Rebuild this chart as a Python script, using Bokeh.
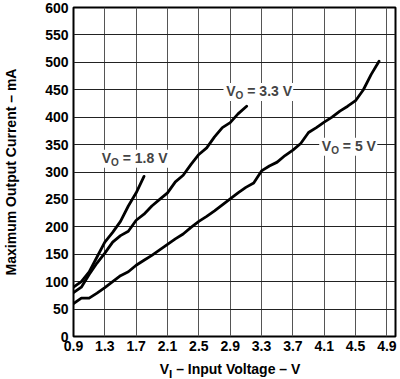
from bokeh.plotting import figure
from bokeh.models import FixedTicker, Label, Range1d, Div
from bokeh.layouts import column
from bokeh.embed import file_html
from bokeh.resources import INLINE

# ---- data ----
vi_18 = [0.9, 1.0, 1.1, 1.2, 1.3, 1.4, 1.5, 1.6, 1.7, 1.8]
io_18 = [90, 100, 118, 145, 172, 190, 210, 238, 262, 292]

vi_33 = [0.9, 1.0, 1.1, 1.2, 1.3, 1.4, 1.5, 1.6, 1.7, 1.8, 1.9, 2.0,
         2.1, 2.2, 2.3, 2.4, 2.5, 2.6, 2.7, 2.8, 2.9, 3.0, 3.11]
io_33 = [80, 90, 113, 134, 152, 172, 184, 192, 212, 223, 238, 250,
         262, 282, 294, 314, 332, 344, 364, 381, 390, 406, 420]

vi_50 = [0.9, 1.0, 1.1, 1.2, 1.3, 1.4, 1.5, 1.6, 1.7, 1.8,
         1.9, 2.0, 2.1, 2.2, 2.3, 2.4, 2.5, 2.6, 2.7, 2.8,
         2.9, 3.0, 3.1, 3.2, 3.3, 3.4, 3.5, 3.6, 3.7, 3.8,
         3.9, 4.0, 4.1, 4.2, 4.3, 4.4, 4.5, 4.6, 4.7, 4.8]
io_50 = [60, 70, 70, 79, 89, 100, 111, 118, 130, 139,
         148, 158, 168, 178, 187, 199, 210, 219, 229, 240,
         251, 262, 272, 280, 302, 311, 318, 330, 340, 352,
         372, 381, 391, 400, 411, 420, 430, 450, 478, 502]

x_ticks = [0.9, 1.3, 1.7, 2.1, 2.5, 2.9, 3.3, 3.7, 4.1, 4.5, 4.9]
y_ticks = [0, 50, 100, 150, 200, 250, 300, 350, 400, 450, 500, 550, 600]

x_title_html = "V<sub>I</sub> \u2013 Input Voltage \u2013 V"
y_title = "Maximum Output Current \u2013 mA"

series_labels = [
    # (main, subscript, rest, x-left, y-middle)
    ("V", "O", "\u00a0= 1.8 V", 1.26, 325),
    ("V", "O", "\u00a0= 3.3 V", 2.85, 447),
    ("V", "O", "\u00a0= 5 V", 4.07, 347),
]

FONT = "Liberation Sans"
X_MIN, X_MAX = 0.9, 5.01
LEFT, RIGHT, TOP, BOTTOM = 65, 5, 7, 22
W, H = 400, 358

p = figure(width=W, height=H,
           x_range=Range1d(X_MIN, X_MAX), y_range=Range1d(0, 600),
           output_backend="svg", toolbar_location=None,
           min_border_left=LEFT, min_border_right=RIGHT,
           min_border_top=TOP, min_border_bottom=BOTTOM)

p.background_fill_color = "white"
p.border_fill_color = "white"
p.outline_line_color = "black"
p.outline_line_width = 2

for ax, ticks in ((p.xaxis[0], x_ticks), (p.yaxis[0], y_ticks)):
    ax.ticker = FixedTicker(ticks=ticks)
    ax.axis_line_color = None
    ax.major_tick_line_color = None
    ax.minor_tick_line_color = None
    ax.major_tick_in = 0
    ax.major_tick_out = 0
    ax.major_label_text_font = FONT
    ax.major_label_text_font_style = "bold"
    ax.major_label_text_font_size = "14px"
    ax.major_label_text_color = "black"

p.xaxis[0].major_label_standoff = 4
p.yaxis[0].major_label_standoff = 5
p.yaxis[0].axis_label = y_title
p.yaxis[0].axis_label_text_font = FONT
p.yaxis[0].axis_label_text_font_style = "bold"
p.yaxis[0].axis_label_text_font_size = "14px"
p.yaxis[0].axis_label_text_color = "black"
p.yaxis[0].axis_label_standoff = 23

p.xgrid.grid_line_color = "#555555"
p.ygrid.grid_line_color = "#222222"
p.xgrid.grid_line_width = 1
p.ygrid.grid_line_width = 1

for xs, ys in ((vi_18, io_18), (vi_33, io_33), (vi_50, io_50)):
    p.line(xs, ys, line_color="black", line_width=2.8, line_join="round", line_cap="round")

# series labels: white box, then "V", subscript "O", and the rest
WID = {"V": 0.667, "O": 0.778}
frame_w = W - LEFT - RIGHT
ppu = frame_w / (X_MAX - X_MIN)
for main, sub, rest, xl, ym in series_labels:
    w_main = WID[main] * 14
    w_sub = WID[sub] * 10
    w_rest = 0.0
    for ch in rest:
        w_rest += {" ": 0.278, "\u00a0": 0.278, "=": 0.584, ".": 0.278, "V": 0.667}.get(ch, 0.556)
    w_rest *= 14
    w_tot = w_main + w_sub + w_rest + 4
    p.rect(x=[xl - 2 / ppu + w_tot / 2 / ppu], y=[ym - 1], width=[w_tot], height=[18],
           width_units="screen", height_units="screen",
           fill_color="white", line_color=None)
    p.add_layout(Label(x=xl, y=ym, text=main, text_font=FONT, text_font_style="bold",
                       text_font_size="14px", text_baseline="middle", text_align="left"))
    p.add_layout(Label(x=xl, y=ym, x_offset=w_main, y_offset=-4, text=sub, text_font=FONT,
                       text_font_style="bold", text_font_size="10px",
                       text_baseline="middle", text_align="left"))
    p.add_layout(Label(x=xl, y=ym, x_offset=w_main + w_sub, text=rest, text_font=FONT,
                       text_font_style="bold", text_font_size="14px",
                       text_baseline="middle", text_align="left"))

title = Div(text=x_title_html, width=frame_w, height=379 - H,
            margin=(0, RIGHT, 0, LEFT),
            styles={"text-align": "center", "font-family": FONT, "font-weight": "bold",
                    "font-size": "14px", "color": "black", "line-height": "20px",
                    "padding-top": "1px"})

layout = column(p, title, spacing=0)

open("out.html", "w").write(file_html(layout, INLINE))
